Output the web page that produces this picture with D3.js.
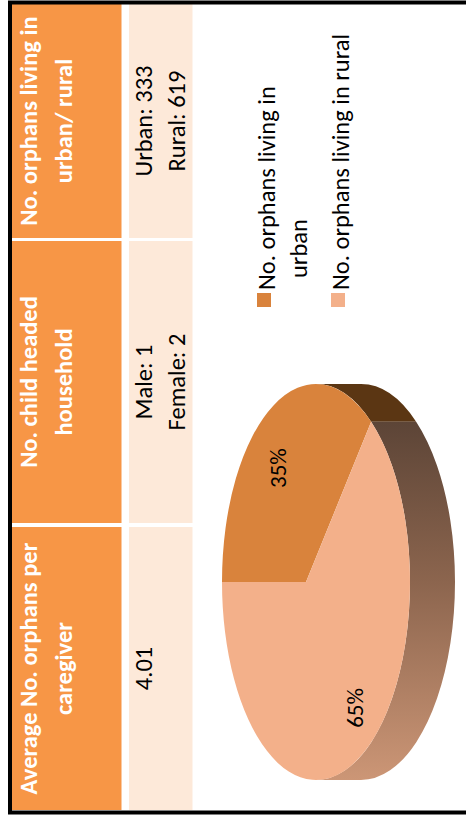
<!DOCTYPE html>
<html>
<head>
<meta charset="utf-8">
<script src="https://cdn.jsdelivr.net/npm/d3@7"></script>
<style>
  html, body { margin: 0; padding: 0; background: #ffffff; }
  svg { display: block; }
  text { font-family: Calibri, Carlito, Lato, sans-serif; }
</style>
</head>
<body>
<div id="chart"></div>
<script>
// ---- data ----
const headerLines = [
  ["Average No. orphans per", "caregiver"],
  ["No. child headed", "household"],
  ["No. orphans living in", "urban/ rural"]
];
const avgOrphansPerCaregiver = [4.01];
const childHeadLabels = ["Male", "Female"];
const childHeadCounts = [1, 2];
const residenceLabels = ["Urban", "Rural"];
const residenceCounts = [333, 619];
const legendLabels = [
  ["No. orphans living in", "urban"],
  ["No. orphans living in rural"]
];
const sliceColors = ["#D9833C", "#F3B08A"];

// ---- layout (drawn in a landscape frame, then turned a quarter turn) ----
const W = 466, H = 819;          // page size
const fontSize = 24.5;

const svg = d3.select("#chart").append("svg")
  .attr("width", W).attr("height", H);

const defs = svg.append("defs");

const g = svg.append("g")
  .attr("transform", `translate(0,${H}) rotate(-90)`);

// table columns
const colX = d3.scaleOrdinal()
  .domain([0, 1, 2])
  .range([[9, 292], [296, 578], [581, 815]]);

const headerTop = 12, headerBottom = 121.5;
const dataTop = 129, dataBottom = 192.5;

const cellText = [
  [d3.format(".2f")(avgOrphansPerCaregiver[0])],
  childHeadLabels.map((l, i) => `${l}: ${childHeadCounts[i]}`),
  residenceLabels.map((l, i) => `${l}: ${residenceCounts[i]}`)
];

[0, 1, 2].forEach(i => {
  const [x0, x1] = colX(i);
  const xm = (x0 + x1) / 2;
  g.append("rect")
    .attr("x", x0).attr("y", headerTop)
    .attr("width", x1 - x0).attr("height", headerBottom - headerTop)
    .attr("fill", "#F79646");
  g.append("rect")
    .attr("x", x0).attr("y", dataTop)
    .attr("width", x1 - x0).attr("height", dataBottom - dataTop)
    .attr("fill", "#FDE9D9");
  headerLines[i].forEach((t, j) => {
    g.append("text")
      .attr("x", xm).attr("y", 37 + j * 35)
      .attr("text-anchor", "middle")
      .attr("fill", "#ffffff")
      .attr("font-weight", "bold")
      .attr("font-size", fontSize)
      .text(t);
  });
  cellText[i].forEach((t, j) => {
    g.append("text")
      .attr("x", xm).attr("y", 152 + j * 33)
      .attr("text-anchor", "middle")
      .attr("fill", "#000000")
      .attr("font-size", fontSize)
      .text(t);
  });
});

// outer frame
g.append("rect")
  .attr("x", 6.5).attr("y", 10)
  .attr("width", 810).attr("height", 480)
  .attr("fill", "none")
  .attr("stroke", "#000000")
  .attr("stroke-width", 4);

// ---- 3D pie ----
const cx = 237, cy = 316, rx = 198, ry = 94, depth = 45;
const apex = [cx, cy - 10];
const P = a => [cx + rx * Math.sin(a), cy - ry * Math.cos(a)];

const pie = d3.pie().sort(null).value(d => d);
const arcs = pie(residenceCounts);
const total = d3.sum(residenceCounts);

const grad = defs.append("linearGradient")
  .attr("id", "sideGrad")
  .attr("gradientUnits", "userSpaceOnUse")
  .attr("x1", cx - rx).attr("y1", 0)
  .attr("x2", cx + rx).attr("y2", 0);
grad.append("stop").attr("offset", 0).attr("stop-color", "#CC9676");
grad.append("stop").attr("offset", 0.5).attr("stop-color", "#8C654E");
grad.append("stop").attr("offset", 0.9).attr("stop-color", "#5D4537");
grad.append("stop").attr("offset", 1).attr("stop-color", "#5B4434");
const sideFill = ["#5B3613", "url(#sideGrad)"];

// side walls (only the half facing the viewer)
const vis0 = Math.PI / 2, vis1 = 3 * Math.PI / 2;
arcs.forEach((a, i) => {
  const b0 = Math.max(a.startAngle, vis0), b1 = Math.min(a.endAngle, vis1);
  if (b1 <= b0) return;
  const p0 = P(b0), p1 = P(b1);
  const large = (b1 - b0) > Math.PI ? 1 : 0;
  const path = `M${p0}A${rx},${ry} 0 ${large} 1 ${p1}` +
    `L${p1[0]},${p1[1] + depth}` +
    `A${rx},${ry} 0 ${large} 0 ${p0[0]},${p0[1] + depth}Z`;
  g.append("path").attr("d", path).attr("fill", sideFill[i]);
});

// top faces
arcs.forEach((a, i) => {
  const p0 = P(a.startAngle), p1 = P(a.endAngle);
  const large = (a.endAngle - a.startAngle) > Math.PI ? 1 : 0;
  g.append("path")
    .attr("d", `M${apex}L${p0}A${rx},${ry} 0 ${large} 1 ${p1}Z`)
    .attr("fill", sliceColors[i]);
});

// percentage labels
const pct = d3.format(".0%");
arcs.forEach((a, i) => {
  const m = (a.startAngle + a.endAngle) / 2;
  const x = cx + 0.68 * rx * Math.sin(m) - 6;
  const y = cy - 0.9 * ry * Math.cos(m);
  g.append("text")
    .attr("x", x).attr("y", y)
    .attr("dy", "0.35em")
    .attr("text-anchor", "middle")
    .attr("font-size", 23)
    .attr("fill", "#000000")
    .text(pct(a.value / total));
});

// legend
const legendX = 512, legendY = [257, 331];
legendLabels.forEach((lines, i) => {
  g.append("rect")
    .attr("x", legendX).attr("y", legendY[i])
    .attr("width", 14).attr("height", 14)
    .attr("fill", sliceColors[i]);
  lines.forEach((t, j) => {
    g.append("text")
      .attr("x", legendX + 17 + (j > 0 ? 12 : 0))
      .attr("y", legendY[i] + 18 + j * 32)
      .attr("font-size", fontSize)
      .attr("fill", "#000000")
      .text(t);
  });
});
</script>
</body>
</html>
